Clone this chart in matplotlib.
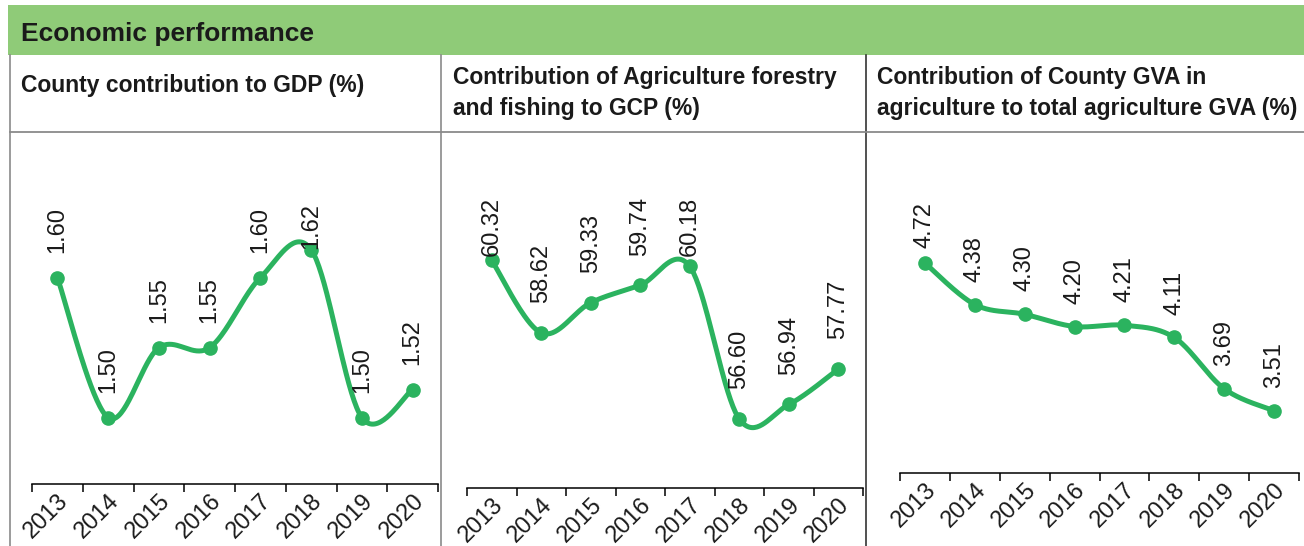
import numpy as np
import matplotlib
matplotlib.use("Agg")
import matplotlib.pyplot as plt
from matplotlib.patches import Rectangle

plt.rcParams['font.family'] = ['Liberation Sans', 'DejaVu Sans']

years = ['2013', '2014', '2015', '2016', '2017', '2018', '2019', '2020']
gdp_share = [1.60, 1.50, 1.55, 1.55, 1.60, 1.62, 1.50, 1.52]
agri_gcp = [60.32, 58.62, 59.33, 59.74, 60.18, 56.60, 56.94, 57.77]
agri_gva = [4.72, 4.38, 4.30, 4.20, 4.21, 4.11, 3.69, 3.51]

header = 'Economic performance'
titles = [['County contribution to GDP (%)'],
          ['Contribution of Agriculture forestry', 'and fishing to GCP (%)'],
          ['Contribution of County GVA in', 'agriculture to total agriculture GVA (%)']]

GREEN = '#2bb35f'
HEAD = '#8fcb78'
W, H = 1304, 546


def smooth(xs, ys, n=40):
    # excel-like smoothed line (catmull-rom as cubic bezier)
    pts = np.column_stack([xs, ys]).astype(float)
    ext = np.vstack([pts[0], pts, pts[-1]])
    t = np.linspace(0, 1, n)[:, None]
    out = []
    for i in range(len(pts) - 1):
        p0, p1, p2, p3 = ext[i], ext[i + 1], ext[i + 2], ext[i + 3]
        c1 = p1 + (p2 - p0) / 6
        c2 = p2 - (p3 - p1) / 6
        out.append((1 - t) ** 3 * p1 + 3 * (1 - t) ** 2 * t * c1 + 3 * (1 - t) * t ** 2 * c2 + t ** 3 * p2)
    seg = np.vstack(out)
    return seg[:, 0], seg[:, 1]


fig = plt.figure(figsize=(W / 100, H / 100), dpi=100)

# frame, header and title row (pixel coords)
bg = fig.add_axes([0, 0, 1, 1])
bg.set_xlim(0, W)
bg.set_ylim(H, 0)
bg.axis('off')
bg.add_patch(Rectangle((8, 5), W - 8, 50, color=HEAD, lw=0))
bg.text(21, 41, header, fontsize=19, fontweight='bold', color='#1a1a1a', va='baseline')
bg.plot([9.5, 9.5], [55, H], color='#8a8a8a', lw=1.2)
bg.plot([441, 441], [55, H], color='#8a8a8a', lw=1.2)
bg.plot([866, 866], [55, H], color='#222222', lw=1.1)
bg.plot([9.5, W], [132, 132], color='#8a8a8a', lw=1.3)

title_x = [21, 453, 877]
for tx, lines in zip(title_x, titles):
    if len(lines) == 1:
        bg.text(tx, 92, lines[0], fontsize=16.5, fontweight='bold', color='#1a1a1a', va='baseline')
    else:
        bg.text(tx, 84, lines[0], fontsize=16.5, fontweight='bold', color='#1a1a1a', va='baseline')
        bg.text(tx, 115, lines[1], fontsize=16.5, fontweight='bold', color='#1a1a1a', va='baseline')

# left, right, top, bottom in pixels
boxes = [(32, 438, 203, 484), (467, 863, 197, 488), (900, 1299, 202, 473)]
ylims = [(1.4526, 1.6533), (54.98, 61.81), (3.0, 5.22)]
gaps = [18, 21.5, 16.5]
series = [gdp_share, agri_gcp, agri_gva]

axes = []
anns = []
for (l, r, t, b), yl, gap, vals in zip(boxes, ylims, gaps, series):
    ax = fig.add_axes([l / W, 1 - b / H, (r - l) / W, (b - t) / H])
    ax.patch.set_alpha(0)
    x = np.arange(len(years))
    sx, sy = smooth(x, vals)
    ax.plot(sx, sy, color=GREEN, lw=3.6, solid_capstyle='round', clip_on=False)
    ax.plot(x, vals, 'o', ms=9.5, color=GREEN, clip_on=False)
    ax.set_xlim(-0.5, len(years) - 0.5)
    ax.set_ylim(*yl)
    ax.set_xticks(np.arange(-0.5, len(years), 1))
    ax.set_xticklabels([])
    ax.set_xticks(x, minor=True)
    ax.set_xticklabels(years, minor=True, rotation=45, ha='right',
                       rotation_mode='anchor', fontsize=17, color='#1a1a1a')
    ax.tick_params(axis='x', which='major', length=6, width=1.1, direction='out', color='black')
    ax.tick_params(axis='x', which='minor', length=0, pad=4)
    ax.tick_params(axis='y', left=False, labelleft=False)
    for s in ['top', 'left', 'right']:
        ax.spines[s].set_visible(False)
    ax.spines['bottom'].set_linewidth(1.1)
    ax.spines['bottom'].set_color('black')
    row = []
    for xi, v in zip(x, vals):
        a = ax.annotate(f'{v:.2f}', (xi, v), xytext=(0, gap), textcoords='offset points',
                        rotation=90, ha='center', va='bottom', fontsize=17, color='#1a1a1a')
        row.append(a)
    axes.append(ax)
    anns.append(row)

# keep the value labels inside the plot area, like the original
fig.canvas.draw()
for ax, row in zip(axes, anns):
    top = ax.get_window_extent().y1
    for a in row:
        bb = a.get_window_extent()
        if bb.y1 > top:
            dx, dy = a.xyann
            a.xyann = (dx, dy - (bb.y1 - top) * 72 / fig.dpi)

fig.savefig('out.png', dpi=100)
